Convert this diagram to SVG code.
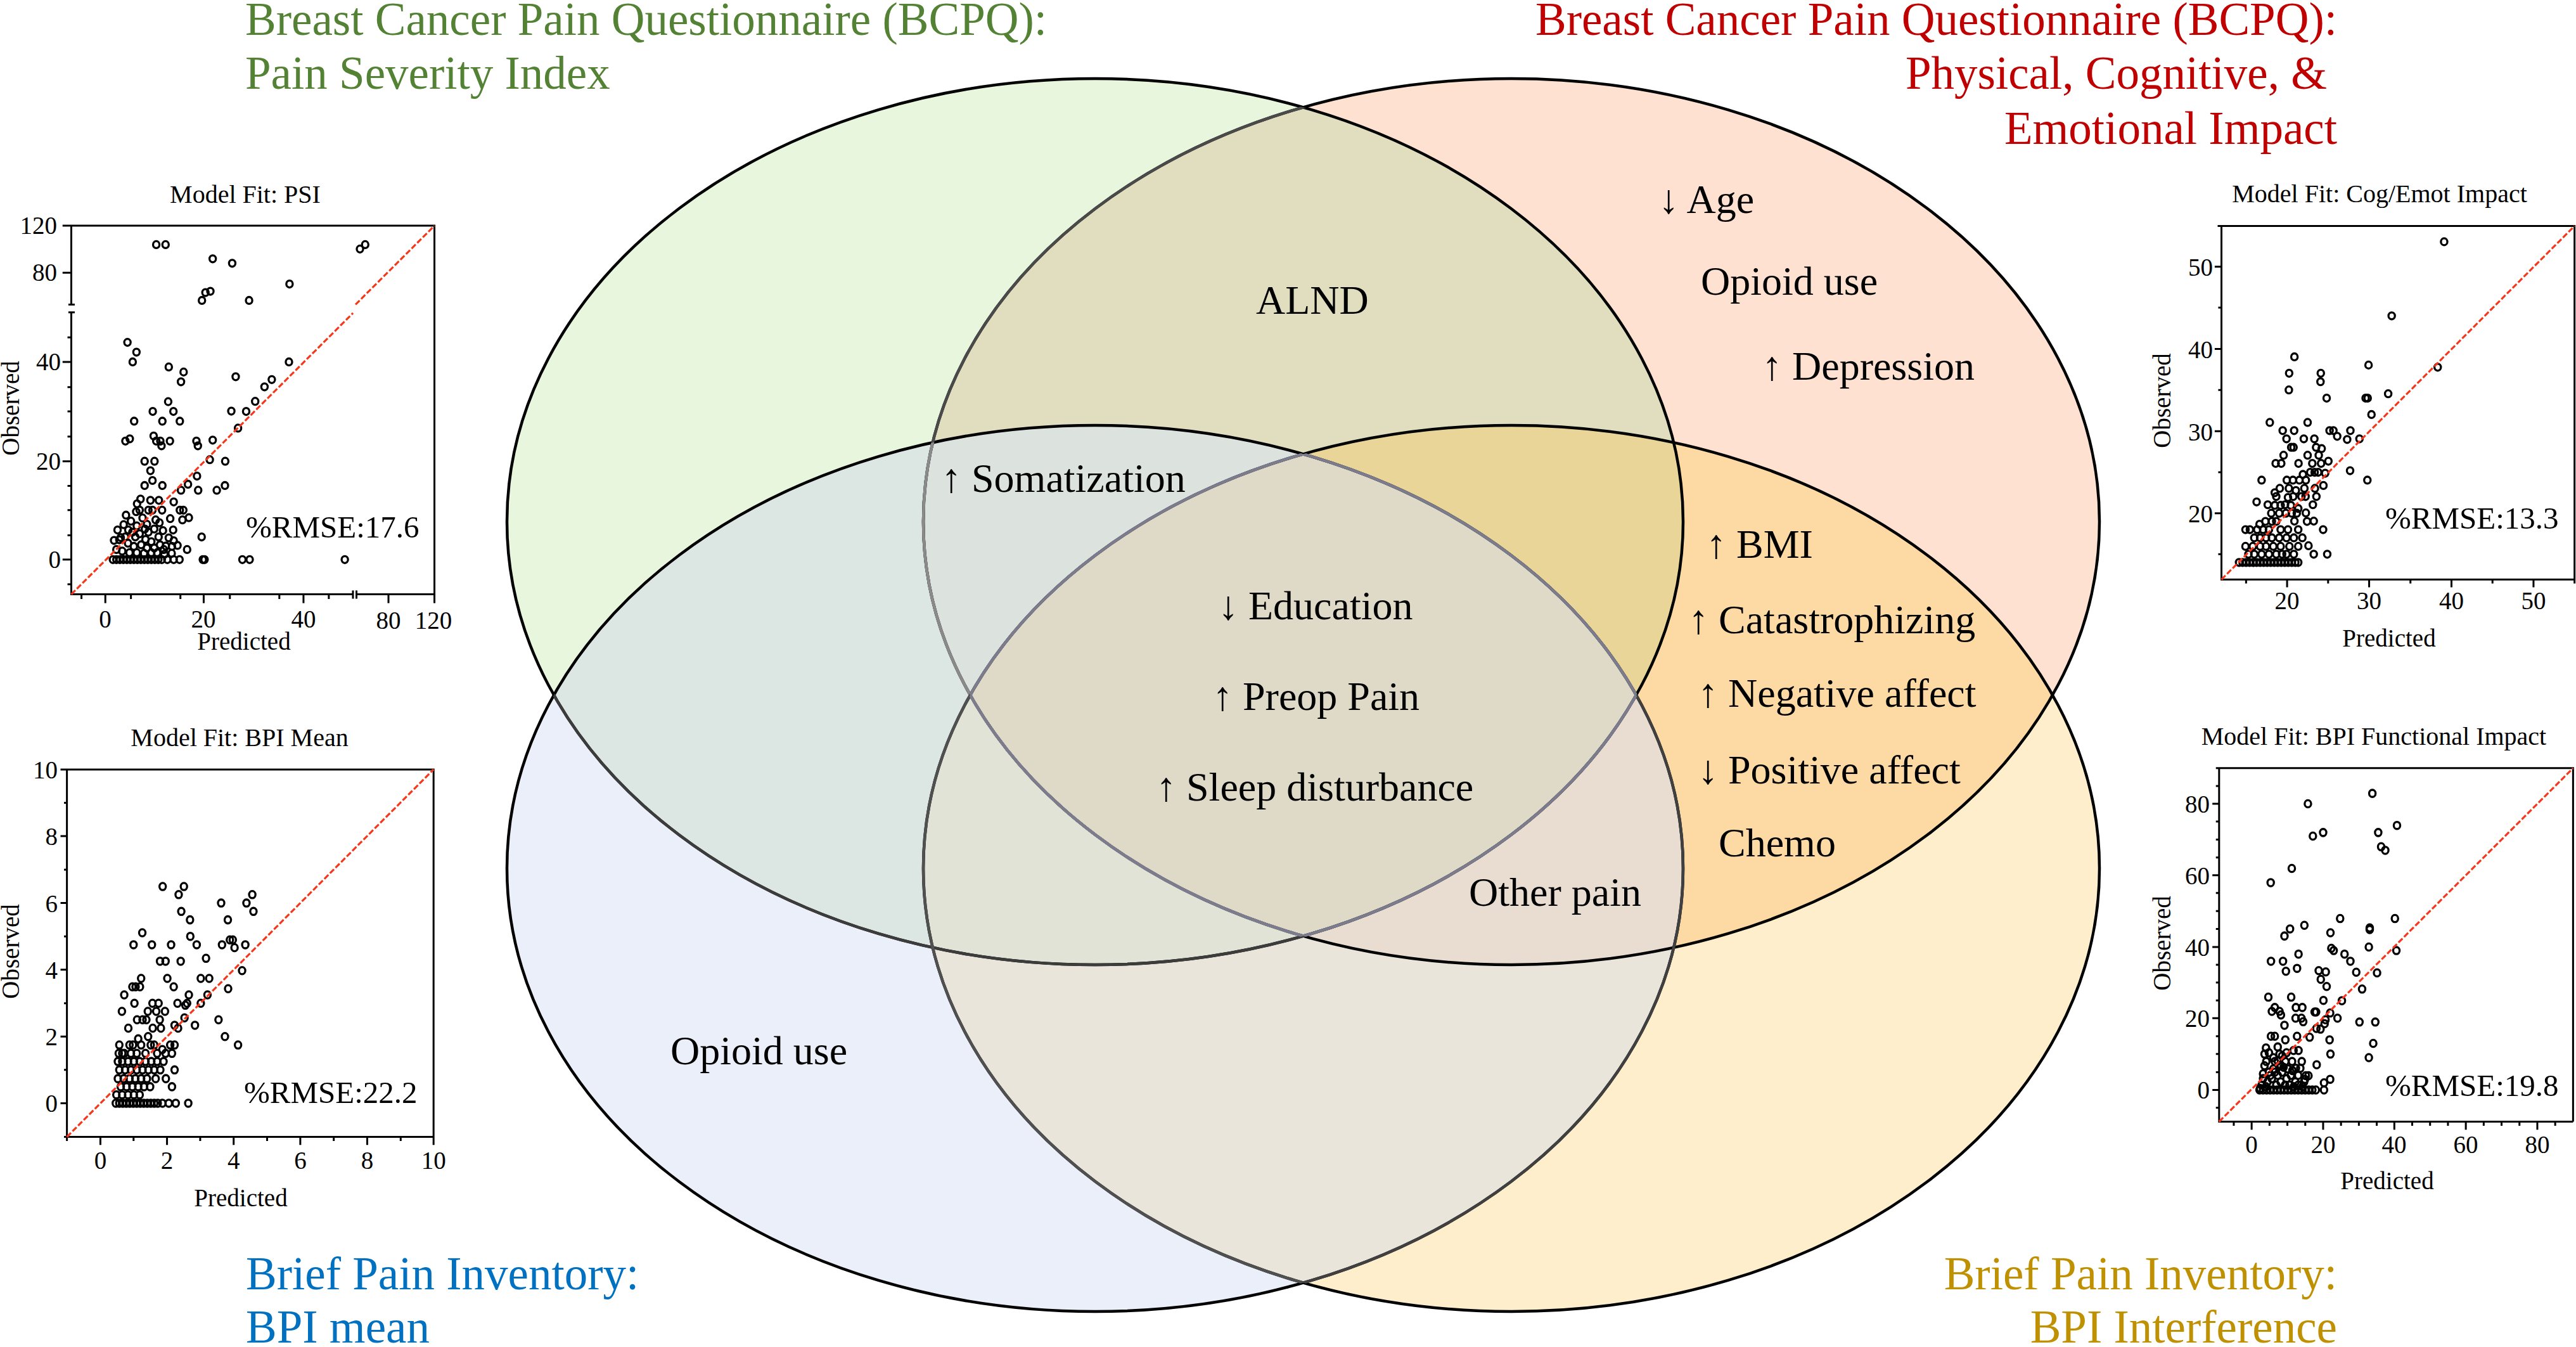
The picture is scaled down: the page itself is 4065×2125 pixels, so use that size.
<svg xmlns="http://www.w3.org/2000/svg" xmlns:xlink="http://www.w3.org/1999/xlink" width="4065" height="2125" viewBox="0 0 4065 2125">
<style>
text{font-family:"Liberation Serif","Times New Roman","DejaVu Serif",serif}
.lab{font-size:64px;fill:#000}
.ttl{font-size:73px}
.ax{fill:none;stroke:#000;stroke-width:3;vector-effect:non-scaling-stroke}
.pts circle{fill:none;stroke:#000;stroke-width:3.3;vector-effect:non-scaling-stroke;r:11px}
.fit{fill:none;stroke:#F5381C;stroke-width:3.2;stroke-dasharray:9 3.5}
.tk{font-size:39px;fill:#000}
.ptl{font-size:40px;fill:#000}
.rm{font-size:49px;fill:#000}
.mid{text-anchor:middle}
.end{text-anchor:end}
</style>
<defs>
<ellipse id="eG" cx="1728" cy="823" rx="928" ry="699"/>
<ellipse id="eO" cx="2385" cy="823" rx="928" ry="699"/>
<ellipse id="eB" cx="1728" cy="1370" rx="928" ry="699"/>
<ellipse id="eY" cx="2385" cy="1370" rx="928" ry="699"/>
<clipPath id="cG"><use href="#eG"/></clipPath>
<clipPath id="cO"><use href="#eO"/></clipPath>
<clipPath id="cB"><use href="#eB"/></clipPath>
<clipPath id="cY"><use href="#eY"/></clipPath>
</defs>
<rect width="4065" height="2125" fill="#fff"/>

<!-- Venn fills -->
<g id="venn-fills">
<use href="#eG" fill="#E7F6DD"/>
<use href="#eO" fill="#FEE1D0"/>
<use href="#eB" fill="#EBEFF9"/>
<use href="#eY" fill="#FEEECC"/>
<use href="#eO" fill="#E0DEBF" clip-path="url(#cG)"/>
<use href="#eB" fill="#DCE7E3" clip-path="url(#cG)"/>
<use href="#eY" fill="#FDD9A4" clip-path="url(#cO)"/>
<use href="#eY" fill="#E9E5DB" clip-path="url(#cB)"/>
<g clip-path="url(#cG)"><use href="#eB" fill="#DCE3DF" clip-path="url(#cO)"/></g>
<g clip-path="url(#cG)"><use href="#eY" fill="#E8D597" clip-path="url(#cO)"/></g>
<g clip-path="url(#cG)"><use href="#eY" fill="#E1E3D6" clip-path="url(#cB)"/></g>
<g clip-path="url(#cO)"><use href="#eY" fill="#E9DDD2" clip-path="url(#cB)"/></g>
<g clip-path="url(#cG)"><g clip-path="url(#cO)"><use href="#eY" fill="#DEDAC7" clip-path="url(#cB)"/></g></g>
</g>

<!-- Venn outlines -->
<g id="venn-outlines" fill="none" stroke-width="4.5">
<use href="#eG" stroke="#000"/>
<use href="#eO" stroke="#000"/>
<use href="#eB" stroke="#000"/>
<use href="#eY" stroke="#000"/>
<use href="#eO" stroke="#4a4a4a" clip-path="url(#cG)"/>
<g clip-path="url(#cG)"><use href="#eO" stroke="#8a8a8a" clip-path="url(#cB)"/></g>
<use href="#eG" stroke="#3c3c3c" clip-path="url(#cB)"/>
<use href="#eY" stroke="#505050" clip-path="url(#cB)"/>
<use href="#eB" stroke="#404040" clip-path="url(#cY)"/>
<g clip-path="url(#cG)"><g clip-path="url(#cB)"><use href="#eO" stroke="#7c7c8e" clip-path="url(#cY)"/></g></g>
<g clip-path="url(#cO)"><g clip-path="url(#cB)"><use href="#eG" stroke="#7c7c8e" clip-path="url(#cY)"/></g></g>
<g clip-path="url(#cG)"><g clip-path="url(#cO)"><use href="#eB" stroke="#7c7c8e" clip-path="url(#cY)"/></g></g>
<g clip-path="url(#cG)"><g clip-path="url(#cO)"><use href="#eY" stroke="#7c7c8e" clip-path="url(#cB)"/></g></g>
</g>

<!-- Titles -->
<g id="title-psi" class="ttl" fill="#548235">
<text x="387" y="55">Breast Cancer Pain Questionnaire (BCPQ):</text>
<text x="387" y="140">Pain Severity Index</text>
</g>
<g id="title-impact" class="ttl end" fill="#C00000">
<text x="3688" y="55">Breast Cancer Pain Questionnaire (BCPQ):</text>
<text x="3672" y="140">Physical, Cognitive, &amp;</text>
<text x="3688" y="227">Emotional Impact</text>
</g>
<g id="title-bpimean" class="ttl" fill="#0070C0">
<text x="388" y="2034">Brief Pain Inventory:</text>
<text x="388" y="2118">BPI mean</text>
</g>
<g id="title-bpiint" class="ttl end" fill="#BF9000">
<text x="3688" y="2034">Brief Pain Inventory:</text>
<text x="3688" y="2118">BPI Interference</text>
</g>

<!-- Venn labels -->
<g id="n-age" class="lab"><text x="2617" y="336">↓ Age</text></g>
<g id="n-opioid-impact" class="lab"><text x="2684" y="465">Opioid use</text></g>
<g id="n-depression" class="lab"><text x="2780" y="599">↑ Depression</text></g>
<g id="n-alnd" class="lab"><text x="1982" y="495">ALND</text></g>
<g id="n-somatization" class="lab"><text x="1485" y="776">↑ Somatization</text></g>
<g id="n-bmi" class="lab"><text x="2692" y="880">↑ BMI</text></g>
<g id="n-catastrophizing" class="lab"><text x="2664" y="999">↑ Catastrophizing</text></g>
<g id="n-negaffect" class="lab"><text x="2679" y="1115">↑ Negative affect</text></g>
<g id="n-posaffect" class="lab"><text x="2679" y="1236">↓ Positive affect</text></g>
<g id="n-chemo" class="lab"><text x="2712" y="1351">Chemo</text></g>
<g id="n-education" class="lab"><text x="1922" y="977">↓ Education</text></g>
<g id="n-preop" class="lab"><text x="1913" y="1120">↑ Preop Pain</text></g>
<g id="n-sleep" class="lab"><text x="1824" y="1263">↑ Sleep disturbance</text></g>
<g id="n-otherpain" class="lab"><text x="2318" y="1429">Other pain</text></g>
<g id="n-opioid-mean" class="lab"><text x="1058" y="1679">Opioid use</text></g>

<!-- Plot 1: PSI -->
<g id="plot-psi">
<text class="ptl mid" x="387" y="320">Model Fit: PSI</text>
<g transform="translate(0,270) scale(0.45918,0.49745)">
<path class="ax" d="M215,173H1493V1342 M245,173V423 M235,423H257 M235,448H257 M245,448V1342H1213 M1225,1342H1493 M1213,1330V1356 M1225,1330V1356 M215,322H245 M215,605H245 M215,920H245 M215,1232H245 M232,527H245 M232,685H245 M232,762H245 M232,842H245 M232,998H245 M232,1075H245 M232,1155H245 M232,1310H245 M362,1342V1370 M700,1342V1370 M1043,1342V1370 M1335,1342V1370 M1493,1342V1370 M280,1342V1357 M450,1342V1357 M620,1342V1357 M790,1342V1357 M960,1342V1357 M1130,1342V1357"/>
<g class="pts">
<circle cx="537" cy="233"/><circle cx="569" cy="233"/><circle cx="731" cy="278"/><circle cx="798" cy="292"/><circle cx="1237" cy="247"/><circle cx="1255" cy="233"/><circle cx="995" cy="358"/><circle cx="694" cy="410"/><circle cx="706" cy="385"/><circle cx="723" cy="381"/><circle cx="856" cy="410"/>
<circle cx="438" cy="543"/><circle cx="469" cy="574"/><circle cx="456" cy="605"/><circle cx="580" cy="621"/><circle cx="631" cy="637"/><circle cx="622" cy="668"/><circle cx="810" cy="652"/><circle cx="993" cy="605"/><circle cx="934" cy="661"/><circle cx="909" cy="684"/><circle cx="877" cy="730"/><circle cx="578" cy="731"/><circle cx="596" cy="762"/><circle cx="525" cy="762"/><circle cx="795" cy="761"/><circle cx="846" cy="762"/><circle cx="618" cy="793"/><circle cx="558" cy="793"/><circle cx="461" cy="793"/><circle cx="818" cy="815"/><circle cx="431" cy="856"/><circle cx="446" cy="849"/><circle cx="528" cy="840"/><circle cx="537" cy="856"/><circle cx="584" cy="856"/><circle cx="555" cy="871"/><circle cx="551" cy="856"/><circle cx="675" cy="856"/><circle cx="680" cy="871"/><circle cx="731" cy="853"/><circle cx="497" cy="920"/><circle cx="531" cy="920"/><circle cx="721" cy="915"/><circle cx="774" cy="920"/><circle cx="517" cy="950"/><circle cx="524" cy="981"/><circle cx="497" cy="997"/><circle cx="558" cy="997"/><circle cx="677" cy="967"/><circle cx="646" cy="993"/><circle cx="681" cy="1012"/><circle cx="622" cy="1012"/><circle cx="773" cy="997"/><circle cx="745" cy="1012"/>
<circle cx="483" cy="1040"/><circle cx="471" cy="1055"/><circle cx="480" cy="1075"/><circle cx="517" cy="1044"/><circle cx="546" cy="1044"/><circle cx="524" cy="1075"/><circle cx="557" cy="1075"/><circle cx="597" cy="1049"/><circle cx="618" cy="1075"/><circle cx="630" cy="1075"/><circle cx="627" cy="1106"/><circle cx="649" cy="1099"/><circle cx="585" cy="1102"/><circle cx="535" cy="1106"/><circle cx="468" cy="1080"/><circle cx="433" cy="1091"/><circle cx="404" cy="1138"/><circle cx="425" cy="1121"/><circle cx="441" cy="1138"/><circle cx="392" cy="1171"/><circle cx="410" cy="1169"/><circle cx="415" cy="1162"/><circle cx="595" cy="1138"/><circle cx="580" cy="1163"/><circle cx="597" cy="1172"/><circle cx="610" cy="1187"/><circle cx="570" cy="1189"/><circle cx="591" cy="1190"/><circle cx="643" cy="1200"/><circle cx="563" cy="1200"/><circle cx="693" cy="1160"/><circle cx="465" cy="1160"/><circle cx="500" cy="1168"/>
<circle cx="450" cy="1110"/><circle cx="470" cy="1125"/><circle cx="490" cy="1100"/><circle cx="505" cy="1120"/><circle cx="455" cy="1145"/><circle cx="480" cy="1150"/><circle cx="510" cy="1145"/><circle cx="530" cy="1135"/><circle cx="545" cy="1160"/><circle cx="560" cy="1140"/><circle cx="520" cy="1175"/><circle cx="440" cy="1180"/><circle cx="460" cy="1190"/><circle cx="485" cy="1185"/><circle cx="505" cy="1195"/><circle cx="530" cy="1195"/><circle cx="550" cy="1185"/><circle cx="400" cy="1200"/><circle cx="420" cy="1205"/><circle cx="445" cy="1210"/><circle cx="470" cy="1210"/><circle cx="495" cy="1212"/><circle cx="520" cy="1210"/><circle cx="540" cy="1210"/><circle cx="565" cy="1215"/><circle cx="590" cy="1212"/><circle cx="510" cy="1075"/><circle cx="498" cy="1135"/><circle cx="548" cy="1115"/><circle cx="430" cy="1160"/>
<circle cx="388" cy="1232"/><circle cx="400" cy="1232"/><circle cx="412" cy="1232"/><circle cx="424" cy="1232"/><circle cx="436" cy="1232"/><circle cx="448" cy="1232"/><circle cx="460" cy="1232"/><circle cx="472" cy="1232"/><circle cx="484" cy="1232"/><circle cx="496" cy="1232"/><circle cx="508" cy="1232"/><circle cx="520" cy="1232"/><circle cx="532" cy="1232"/><circle cx="544" cy="1232"/><circle cx="556" cy="1232"/><circle cx="575" cy="1232"/><circle cx="597" cy="1232"/><circle cx="617" cy="1232"/><circle cx="697" cy="1232"/><circle cx="703" cy="1232"/><circle cx="833" cy="1232"/><circle cx="858" cy="1232"/><circle cx="1185" cy="1232"/>
</g>
</g>
<path class="fit" d="M112.5,937.6L557,493.9M561.1,480.4L685.6,356.1"/>
<g class="tk">
<text class="end" x="90" y="369">120</text><text class="end" x="90" y="443">80</text><text class="end" x="96" y="584">40</text><text class="end" x="96" y="741">20</text><text class="end" x="96" y="896">0</text>
<text class="mid" x="166" y="990">0</text><text class="mid" x="321" y="990">20</text><text class="mid" x="479" y="990">40</text><text class="mid" x="613" y="992">80</text><text class="mid" x="684" y="992">120</text>
<text class="mid" x="385" y="1025">Predicted</text>
<text class="mid" transform="translate(30,644) rotate(-90)">Observed</text>
</g>
<text class="rm" x="388" y="848">%RMSE:17.6</text>
</g>

<!-- Plot 2: BPI Mean -->
<g id="plot-bpimean">
<text class="ptl mid" x="378" y="1177">Model Fit: BPI Mean</text>
<g transform="translate(0,1120) scale(0.45918,0.5102)">
<path class="ax" d="M208,184H1490V1320 M230,184V1320H1490 M208,390H230 M208,597H230 M208,803H230 M208,1010H230 M208,1216H230 M220,287H230 M220,494H230 M220,700H230 M220,907H230 M220,1113H230 M220,1320H230 M345,1320V1345 M574,1320V1345 M803,1320V1345 M1032,1320V1345 M1262,1320V1345 M1490,1320V1345 M230,1320V1333 M459,1320V1333 M688,1320V1333 M918,1320V1333 M1147,1320V1333 M1377,1320V1333"/>
<g class="pts">
<circle cx="559" cy="546"/><circle cx="632" cy="546"/><circle cx="614" cy="571"/><circle cx="867" cy="571"/><circle cx="623" cy="623"/><circle cx="760" cy="597"/><circle cx="847" cy="597"/><circle cx="871" cy="623"/><circle cx="653" cy="649"/><circle cx="783" cy="649"/><circle cx="489" cy="689"/><circle cx="654" cy="700"/><circle cx="459" cy="726"/><circle cx="522" cy="726"/><circle cx="588" cy="726"/><circle cx="676" cy="726"/><circle cx="763" cy="726"/><circle cx="790" cy="711"/><circle cx="800" cy="711"/><circle cx="806" cy="735"/><circle cx="843" cy="726"/><circle cx="708" cy="768"/><circle cx="550" cy="777"/><circle cx="569" cy="777"/><circle cx="621" cy="777"/><circle cx="485" cy="830"/><circle cx="575" cy="830"/><circle cx="690" cy="830"/><circle cx="719" cy="830"/><circle cx="832" cy="806"/><circle cx="455" cy="856"/><circle cx="466" cy="856"/><circle cx="481" cy="856"/><circle cx="597" cy="856"/><circle cx="784" cy="862"/><circle cx="427" cy="881"/><circle cx="649" cy="881"/><circle cx="713" cy="881"/><circle cx="462" cy="907"/><circle cx="524" cy="907"/><circle cx="545" cy="907"/><circle cx="610" cy="907"/><circle cx="637" cy="913"/><circle cx="643" cy="907"/><circle cx="690" cy="907"/><circle cx="419" cy="932"/><circle cx="508" cy="932"/><circle cx="537" cy="932"/><circle cx="567" cy="932"/><circle cx="634" cy="952"/><circle cx="471" cy="958"/><circle cx="490" cy="958"/><circle cx="503" cy="958"/><circle cx="549" cy="958"/><circle cx="751" cy="958"/><circle cx="670" cy="975"/><circle cx="441" cy="984"/><circle cx="525" cy="984"/><circle cx="553" cy="984"/><circle cx="612" cy="984"/><circle cx="600" cy="975"/><circle cx="773" cy="1010"/><circle cx="818" cy="1036"/><circle cx="475" cy="1017"/><circle cx="457" cy="1036"/><circle cx="485" cy="1036"/><circle cx="518" cy="1036"/><circle cx="509" cy="1010"/><circle cx="530" cy="1036"/><circle cx="558" cy="1050"/><circle cx="585" cy="1036"/><circle cx="600" cy="1036"/><circle cx="591" cy="1062"/><circle cx="540" cy="1062"/><circle cx="569" cy="1062"/><circle cx="408" cy="1062"/><circle cx="427" cy="1062"/><circle cx="480" cy="1087"/><circle cx="540" cy="1087"/><circle cx="551" cy="1113"/><circle cx="562" cy="1087"/><circle cx="600" cy="1113"/><circle cx="535" cy="1140"/><circle cx="570" cy="1140"/><circle cx="591" cy="1165"/><circle cx="516" cy="1165"/>
<circle cx="405" cy="1087"/><circle cx="420" cy="1087"/><circle cx="440" cy="1087"/><circle cx="460" cy="1087"/><circle cx="500" cy="1087"/><circle cx="520" cy="1087"/><circle cx="410" cy="1113"/><circle cx="430" cy="1113"/><circle cx="450" cy="1113"/><circle cx="470" cy="1113"/><circle cx="490" cy="1113"/><circle cx="510" cy="1113"/><circle cx="530" cy="1113"/><circle cx="405" cy="1140"/><circle cx="425" cy="1140"/><circle cx="445" cy="1140"/><circle cx="465" cy="1140"/><circle cx="485" cy="1140"/><circle cx="505" cy="1140"/><circle cx="415" cy="1165"/><circle cx="435" cy="1165"/><circle cx="455" cy="1165"/><circle cx="475" cy="1165"/><circle cx="495" cy="1165"/><circle cx="400" cy="1190"/><circle cx="420" cy="1190"/><circle cx="440" cy="1190"/><circle cx="460" cy="1190"/><circle cx="480" cy="1190"/><circle cx="420" cy="1062"/><circle cx="450" cy="1062"/><circle cx="470" cy="1062"/><circle cx="500" cy="1062"/><circle cx="445" cy="1036"/><circle cx="410" cy="1036"/>
<circle cx="398" cy="1216"/><circle cx="410" cy="1216"/><circle cx="422" cy="1216"/><circle cx="434" cy="1216"/><circle cx="446" cy="1216"/><circle cx="458" cy="1216"/><circle cx="470" cy="1216"/><circle cx="482" cy="1216"/><circle cx="494" cy="1216"/><circle cx="506" cy="1216"/><circle cx="518" cy="1216"/><circle cx="530" cy="1216"/><circle cx="542" cy="1216"/><circle cx="558" cy="1216"/><circle cx="580" cy="1216"/><circle cx="604" cy="1216"/><circle cx="647" cy="1216"/>
</g>
</g>
<path class="fit" d="M105.6,1793.5L684.2,1213.9"/>
<g class="tk">
<text class="end" x="91" y="1228">10</text><text class="end" x="91" y="1333">8</text><text class="end" x="91" y="1439">6</text><text class="end" x="91" y="1544">4</text><text class="end" x="91" y="1649">2</text><text class="end" x="91" y="1754">0</text>
<text class="mid" x="158.4" y="1844">0</text><text class="mid" x="263.6" y="1844">2</text><text class="mid" x="368.7" y="1844">4</text><text class="mid" x="473.9" y="1844">6</text><text class="mid" x="579.5" y="1844">8</text><text class="mid" x="684.2" y="1844">10</text>
<text class="mid" x="380" y="1903">Predicted</text>
<text class="mid" transform="translate(30,1501) rotate(-90)">Observed</text>
</g>
<text class="rm" x="385" y="1740">%RMSE:22.2</text>
</g>

<!-- Plot 3: Cog/Emot Impact -->
<g id="plot-cogemot">
<text class="ptl mid" x="3755" y="319">Model Fit: Cog/Emot Impact</text>
<g transform="translate(3340,260) scale(0.46237,0.49745)">
<path class="ax" d="M345,194H1563V1315 M358,194V1315H1563 M335,323H358 M335,584H358 M335,845H358 M335,1105H358 M347,453H358 M347,714H358 M347,975H358 M347,1235H358 M582,1315V1340 M862,1315V1340 M1143,1315V1340 M1423,1315V1340 M442,1315V1328 M722,1315V1328 M1003,1315V1328 M1283,1315V1328 M1563,1315V1328"/>
<g class="pts">
<circle cx="1118" cy="244"/><circle cx="939" cy="479"/><circle cx="1096" cy="642"/><circle cx="607" cy="609"/><circle cx="589" cy="661"/><circle cx="697" cy="661"/><circle cx="696" cy="688"/><circle cx="588" cy="714"/><circle cx="717" cy="740"/><circle cx="860" cy="635"/><circle cx="850" cy="740"/><circle cx="857" cy="740"/><circle cx="927" cy="726"/><circle cx="870" cy="792"/><circle cx="523" cy="817"/><circle cx="652" cy="817"/><circle cx="567" cy="843"/><circle cx="606" cy="843"/><circle cx="727" cy="843"/><circle cx="740" cy="843"/><circle cx="798" cy="843"/><circle cx="753" cy="861"/><circle cx="580" cy="869"/><circle cx="639" cy="869"/><circle cx="675" cy="869"/><circle cx="787" cy="871"/><circle cx="829" cy="869"/><circle cx="596" cy="896"/><circle cx="604" cy="896"/><circle cx="681" cy="896"/><circle cx="700" cy="900"/><circle cx="570" cy="921"/><circle cx="652" cy="921"/><circle cx="690" cy="921"/><circle cx="543" cy="947"/><circle cx="562" cy="947"/><circle cx="621" cy="947"/><circle cx="668" cy="947"/><circle cx="698" cy="947"/><circle cx="723" cy="940"/><circle cx="636" cy="982"/><circle cx="661" cy="975"/><circle cx="676" cy="975"/><circle cx="688" cy="975"/><circle cx="712" cy="978"/><circle cx="797" cy="970"/><circle cx="856" cy="1000"/><circle cx="495" cy="1000"/><circle cx="581" cy="1000"/><circle cx="602" cy="1000"/><circle cx="624" cy="1000"/><circle cx="646" cy="1000"/><circle cx="540" cy="1040"/><circle cx="557" cy="1026"/><circle cx="588" cy="1026"/><circle cx="612" cy="1033"/><circle cx="641" cy="1026"/><circle cx="677" cy="1026"/><circle cx="545" cy="1052"/><circle cx="585" cy="1055"/><circle cx="603" cy="1052"/><circle cx="631" cy="1052"/><circle cx="645" cy="1052"/><circle cx="682" cy="1052"/><circle cx="706" cy="1017"/><circle cx="478" cy="1069"/><circle cx="516" cy="1078"/><circle cx="540" cy="1080"/><circle cx="560" cy="1080"/><circle cx="575" cy="1078"/><circle cx="595" cy="1080"/><circle cx="620" cy="1090"/><circle cx="646" cy="1104"/><circle cx="670" cy="1078"/><circle cx="673" cy="1130"/><circle cx="705" cy="1157"/><circle cx="528" cy="1105"/><circle cx="555" cy="1105"/><circle cx="578" cy="1105"/><circle cx="598" cy="1105"/><circle cx="615" cy="1105"/><circle cx="650" cy="1131"/><circle cx="607" cy="1130"/><circle cx="488" cy="1140"/><circle cx="508" cy="1131"/><circle cx="530" cy="1131"/><circle cx="545" cy="1131"/><circle cx="560" cy="1157"/><circle cx="585" cy="1157"/><circle cx="620" cy="1157"/><circle cx="440" cy="1157"/><circle cx="455" cy="1157"/><circle cx="480" cy="1157"/><circle cx="500" cy="1157"/><circle cx="520" cy="1157"/><circle cx="470" cy="1183"/><circle cx="490" cy="1183"/><circle cx="510" cy="1183"/><circle cx="530" cy="1183"/><circle cx="555" cy="1183"/><circle cx="580" cy="1183"/><circle cx="605" cy="1183"/><circle cx="634" cy="1183"/><circle cx="440" cy="1210"/><circle cx="465" cy="1210"/><circle cx="490" cy="1210"/><circle cx="510" cy="1210"/><circle cx="535" cy="1210"/><circle cx="560" cy="1210"/><circle cx="590" cy="1210"/><circle cx="620" cy="1210"/><circle cx="655" cy="1208"/><circle cx="673" cy="1235"/><circle cx="719" cy="1235"/><circle cx="450" cy="1235"/><circle cx="470" cy="1235"/><circle cx="495" cy="1235"/><circle cx="520" cy="1235"/><circle cx="545" cy="1235"/><circle cx="565" cy="1235"/><circle cx="580" cy="1235"/><circle cx="605" cy="1235"/>
<circle cx="418" cy="1261"/><circle cx="430" cy="1261"/><circle cx="442" cy="1261"/><circle cx="454" cy="1261"/><circle cx="466" cy="1261"/><circle cx="478" cy="1261"/><circle cx="490" cy="1261"/><circle cx="502" cy="1261"/><circle cx="514" cy="1261"/><circle cx="526" cy="1261"/><circle cx="538" cy="1261"/><circle cx="550" cy="1261"/><circle cx="562" cy="1261"/><circle cx="574" cy="1261"/><circle cx="586" cy="1261"/><circle cx="598" cy="1261"/><circle cx="610" cy="1261"/><circle cx="620" cy="1261"/>
</g>
</g>
<path class="fit" d="M3505.5,914.2L4062.7,356.5"/>
<g class="tk">
<text class="end" x="3492" y="435">50</text><text class="end" x="3492" y="565">40</text><text class="end" x="3492" y="695">30</text><text class="end" x="3492" y="824">20</text>
<text class="mid" x="3609" y="961">20</text><text class="mid" x="3738.6" y="961">30</text><text class="mid" x="3868.5" y="961">40</text><text class="mid" x="3998" y="961">50</text>
<text class="mid" x="3770" y="1020">Predicted</text>
<text class="mid" transform="translate(3425,632) rotate(-90)">Observed</text>
</g>
<text class="rm" x="3764" y="834">%RMSE:13.3</text>
</g>

<!-- Plot 4: BPI Functional Impact -->
<g id="plot-bpifunc">
<text class="ptl mid" x="3746" y="1175">Model Fit: BPI Functional Impact</text>
<g transform="translate(3340,1120) scale(0.46237,0.5102)">
<path class="ax" d="M339,180H1558V1273 M350,180V1273H1558 M327,290H350 M327,511H350 M327,733H350 M327,953H350 M327,1175H350 M339,235H350 M339,345H350 M339,401H350 M339,456H350 M339,566H350 M339,622H350 M339,677H350 M339,788H350 M339,843H350 M339,898H350 M339,1009H350 M339,1064H350 M339,1120H350 M339,1230H350 M461,1273V1298 M705,1273V1298 M948,1273V1298 M1192,1273V1298 M1436,1273V1298 M400,1273V1286 M522,1273V1286 M583,1273V1286 M644,1273V1286 M766,1273V1286 M827,1273V1286 M888,1273V1286 M1009,1273V1286 M1070,1273V1286 M1131,1273V1286 M1253,1273V1286 M1314,1273V1286 M1375,1273V1286 M1497,1273V1286"/>
<g class="pts">
<circle cx="873" cy="258"/><circle cx="653" cy="290"/><circle cx="957" cy="357"/><circle cx="893" cy="379"/><circle cx="705" cy="379"/><circle cx="670" cy="390"/><circle cx="903" cy="423"/><circle cx="917" cy="434"/><circle cx="598" cy="490"/><circle cx="526" cy="534"/><circle cx="763" cy="645"/><circle cx="950" cy="645"/><circle cx="641" cy="666"/><circle cx="864" cy="674"/><circle cx="864" cy="679"/><circle cx="592" cy="677"/><circle cx="573" cy="699"/><circle cx="730" cy="689"/><circle cx="733" cy="737"/><circle cx="741" cy="744"/><circle cx="861" cy="733"/><circle cx="955" cy="744"/><circle cx="778" cy="755"/><circle cx="621" cy="755"/><circle cx="527" cy="777"/><circle cx="568" cy="777"/><circle cx="798" cy="777"/><circle cx="616" cy="799"/><circle cx="578" cy="808"/><circle cx="690" cy="806"/><circle cx="714" cy="810"/><circle cx="818" cy="811"/><circle cx="889" cy="813"/><circle cx="697" cy="833"/><circle cx="717" cy="855"/><circle cx="838" cy="863"/><circle cx="518" cy="888"/><circle cx="596" cy="888"/><circle cx="706" cy="898"/><circle cx="769" cy="899"/><circle cx="612" cy="920"/><circle cx="634" cy="920"/><circle cx="540" cy="920"/><circle cx="530" cy="932"/><circle cx="556" cy="932"/><circle cx="561" cy="943"/><circle cx="676" cy="934"/><circle cx="681" cy="934"/><circle cx="611" cy="953"/><circle cx="631" cy="953"/><circle cx="637" cy="964"/><circle cx="729" cy="937"/><circle cx="754" cy="953"/><circle cx="713" cy="958"/><circle cx="710" cy="970"/><circle cx="573" cy="975"/><circle cx="829" cy="965"/><circle cx="883" cy="965"/><circle cx="682" cy="985"/><circle cx="696" cy="987"/><circle cx="527" cy="1009"/><circle cx="540" cy="1009"/><circle cx="576" cy="1020"/><circle cx="616" cy="1009"/><circle cx="659" cy="1012"/><circle cx="727" cy="1020"/><circle cx="876" cy="1031"/><circle cx="604" cy="1053"/><circle cx="621" cy="1053"/><circle cx="730" cy="1064"/><circle cx="861" cy="1075"/><circle cx="505" cy="1064"/><circle cx="550" cy="1042"/><circle cx="556" cy="1064"/><circle cx="683" cy="1097"/><circle cx="576" cy="1087"/><circle cx="599" cy="1087"/><circle cx="632" cy="1087"/><circle cx="511" cy="1087"/><circle cx="540" cy="1087"/><circle cx="560" cy="1098"/><circle cx="612" cy="1108"/><circle cx="627" cy="1108"/><circle cx="646" cy="1131"/><circle cx="655" cy="1131"/><circle cx="643" cy="1142"/><circle cx="729" cy="1142"/><circle cx="708" cy="1153"/>
<circle cx="505" cy="1100"/><circle cx="520" cy="1120"/><circle cx="535" cy="1110"/><circle cx="550" cy="1130"/><circle cx="565" cy="1120"/><circle cx="580" cy="1140"/><circle cx="595" cy="1130"/><circle cx="610" cy="1150"/><circle cx="500" cy="1140"/><circle cx="515" cy="1150"/><circle cx="530" cy="1140"/><circle cx="545" cy="1160"/><circle cx="560" cy="1150"/><circle cx="575" cy="1160"/><circle cx="590" cy="1160"/><circle cx="605" cy="1165"/><circle cx="620" cy="1160"/><circle cx="635" cy="1165"/><circle cx="495" cy="1160"/><circle cx="510" cy="1165"/><circle cx="525" cy="1130"/><circle cx="540" cy="1120"/><circle cx="555" cy="1100"/><circle cx="570" cy="1105"/><circle cx="585" cy="1110"/><circle cx="600" cy="1115"/><circle cx="520" cy="1060"/><circle cx="535" cy="1075"/><circle cx="550" cy="1085"/><circle cx="565" cy="1070"/><circle cx="580" cy="1060"/><circle cx="510" cy="1045"/><circle cx="490" cy="1170"/><circle cx="500" cy="1125"/><circle cx="620" cy="1130"/><circle cx="640" cy="1150"/>
<circle cx="488" cy="1175"/><circle cx="500" cy="1175"/><circle cx="512" cy="1175"/><circle cx="524" cy="1175"/><circle cx="536" cy="1175"/><circle cx="548" cy="1175"/><circle cx="560" cy="1175"/><circle cx="572" cy="1175"/><circle cx="584" cy="1175"/><circle cx="596" cy="1175"/><circle cx="608" cy="1175"/><circle cx="620" cy="1175"/><circle cx="632" cy="1175"/><circle cx="644" cy="1175"/><circle cx="656" cy="1175"/><circle cx="668" cy="1175"/><circle cx="680" cy="1175"/><circle cx="708" cy="1175"/>
</g>
</g>
<path class="fit" d="M3501.8,1769.5L4060.4,1211.8"/>
<g class="tk">
<text class="end" x="3487" y="1282">80</text><text class="end" x="3487" y="1395">60</text><text class="end" x="3487" y="1508">40</text><text class="end" x="3487" y="1620">20</text><text class="end" x="3487" y="1733">0</text>
<text class="mid" x="3553" y="1819">0</text><text class="mid" x="3666" y="1819">20</text><text class="mid" x="3778" y="1819">40</text><text class="mid" x="3891" y="1819">60</text><text class="mid" x="4004" y="1819">80</text>
<text class="mid" x="3767" y="1876">Predicted</text>
<text class="mid" transform="translate(3425,1488) rotate(-90)">Observed</text>
</g>
<text class="rm" x="3764" y="1729">%RMSE:19.8</text>
</g>
</svg>
